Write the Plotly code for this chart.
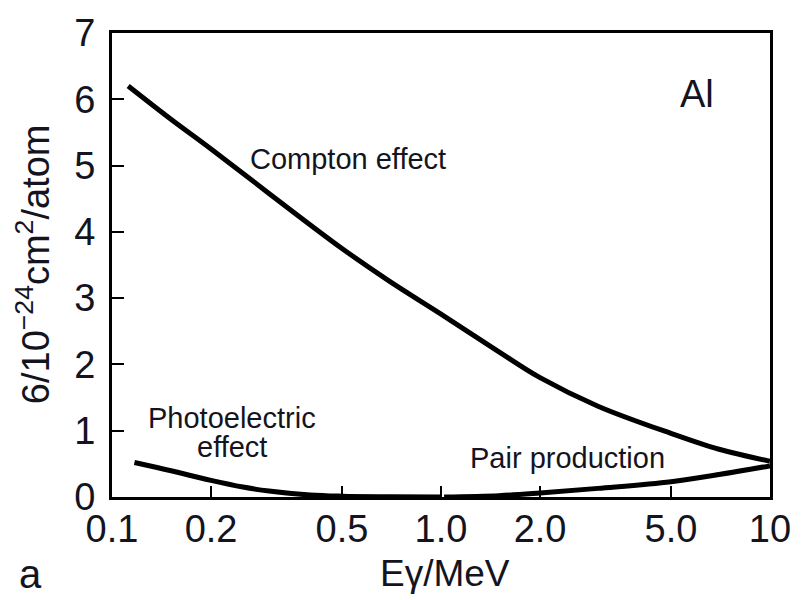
import plotly.graph_objects as go

# Energy (MeV) and cross sections (10^-24 cm^2/atom)
compton_e = [0.112, 0.15, 0.2, 0.3, 0.5, 0.7, 1.0, 1.5, 2.0, 3.0, 5.0, 7.0, 10.0]
compton_s = [6.2, 5.71, 5.25, 4.58, 3.75, 3.25, 2.76, 2.19, 1.80, 1.37, 0.96, 0.72, 0.54]

photo_e = [0.117, 0.15, 0.2, 0.25, 0.3, 0.4, 0.5, 0.7, 1.0]
photo_s = [0.52, 0.40, 0.25, 0.15, 0.09, 0.03, 0.012, 0.004, 0.0]

pair_e = [1.022, 1.5, 2.0, 3.0, 5.0, 7.0, 10.0]
pair_s = [0.0, 0.02, 0.06, 0.13, 0.23, 0.34, 0.47]

x_ticks = [0.1, 0.2, 0.5, 1.0, 2.0, 5.0, 10.0]
x_ticktext = ["0.1", "0.2", "0.5", "1.0", "2.0", "5.0", "10"]
y_ticks = [0, 1, 2, 3, 4, 5, 6, 7]

FONT = "Liberation Sans, Arial, Helvetica, sans-serif"
INK = "#14141e"

L, R, T, B = 112, 32, 27, 103
PW, PH = 803 - L - R, 600 - T - B


def px(xp):
    return (xp - L) / PW


def py(yp):
    return (600 - B - yp) / PH


fig = go.Figure()
line = dict(color="black", width=5, shape="spline", smoothing=1.0)
fig.add_trace(go.Scatter(x=compton_e, y=compton_s, mode="lines", line=line, showlegend=False))
fig.add_trace(go.Scatter(x=photo_e, y=photo_s, mode="lines", line=line, showlegend=False))
fig.add_trace(go.Scatter(x=pair_e, y=pair_s, mode="lines", line=line, showlegend=False))


def note(text, xp, yp, size, angle=0):
    return dict(text=text, xref="paper", yref="paper", x=px(xp), y=py(yp),
                xanchor="center", yanchor="middle", showarrow=False, textangle=angle,
                align="center", font=dict(size=size, family=FONT, color=INK))


fig.update_layout(
    width=803, height=600,
    margin=dict(l=L, r=R, t=T, b=B),
    paper_bgcolor="white", plot_bgcolor="white",
    font=dict(family=FONT, color=INK),
    xaxis=dict(
        type="log", range=[-1, 1],
        tickvals=x_ticks, ticktext=x_ticktext,
        ticks="inside", ticklen=11, tickwidth=2, tickcolor="black",
        showline=True, linecolor="black", linewidth=3, mirror=True,
        showgrid=False, zeroline=False,
        tickfont=dict(size=38, family=FONT, color=INK),
        ticklabelstandoff=-4,
    ),
    yaxis=dict(
        range=[0, 7], tickvals=y_ticks,
        ticks="inside", ticklen=12, tickwidth=2, tickcolor="black",
        showline=True, linecolor="black", linewidth=3, mirror=True,
        showgrid=False, zeroline=False,
        tickfont=dict(size=38, family=FONT, color=INK),
        ticklabelstandoff=6,
    ),
    annotations=[
        note("6/10<sup>−24</sup>cm<sup>2</sup>/atom", 33, 261, 38, angle=-90),
        note("Eγ/MeV", 446, 574, 37),
        note("a", 30, 575, 40),
        note("Al", 698, 89, 38),
        note("Compton effect", 348, 155, 29),
        note("Photoelectric", 232, 417, 29),
        note("effect", 232, 446, 29),
        note("Pair production", 568, 457, 29),
    ],
)

fig.write_html("out.html", post_script="document.body.style.margin='0';",
               config={"displayModeBar": False})
